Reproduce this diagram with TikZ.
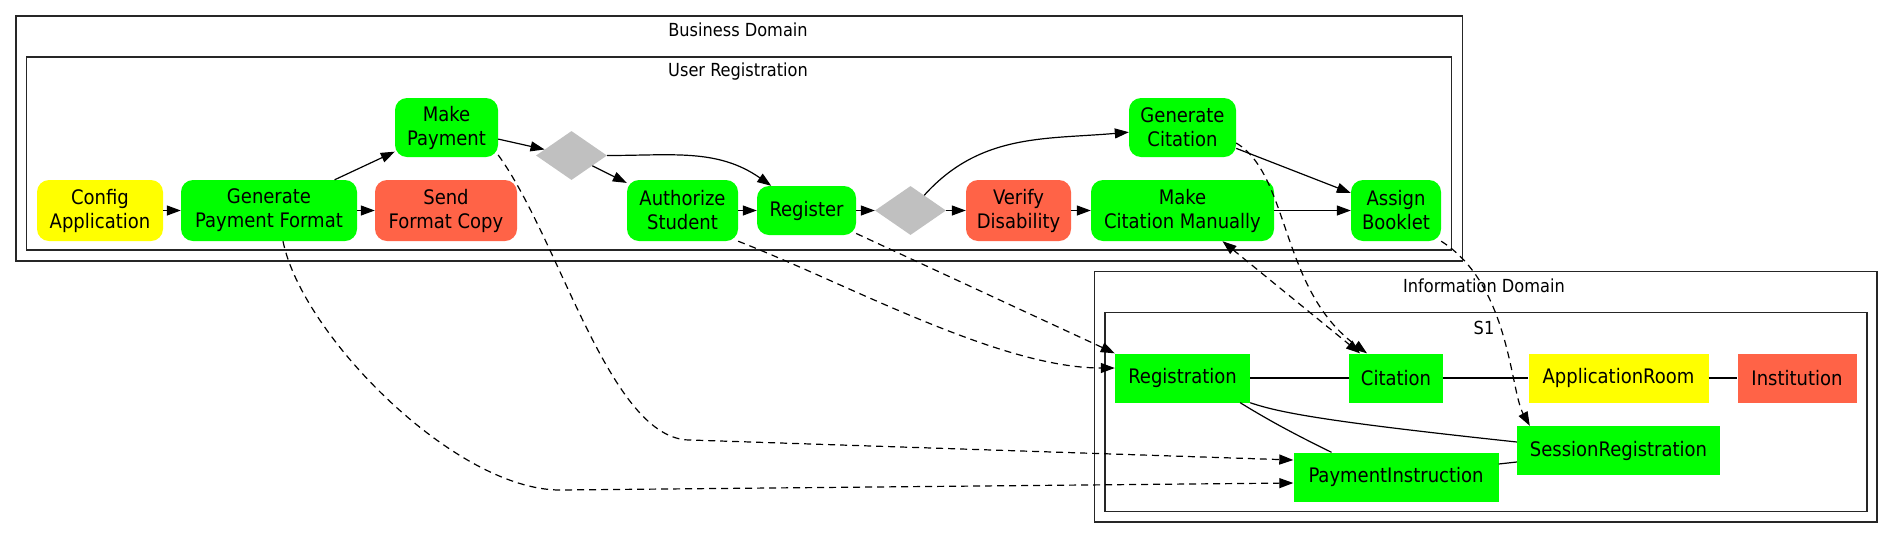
\documentclass[tikz,border=0pt]{standalone}
\usepackage{fontspec}
\setmainfont{DejaVu Sans Condensed}
\usepackage{tikz}
\usetikzlibrary{shapes.geometric,arrows.meta}
\definecolor{taskgreen}{HTML}{00FF00}
\definecolor{taskyellow}{HTML}{FFFF00}
\definecolor{tasktomato}{HTML}{FF6347}
\definecolor{gategray}{HTML}{C0C0C0}
\newcommand{\nodefont}{\fontsize{20}{24}\selectfont}
\newcommand{\clusterfont}{\fontsize{18}{21}\selectfont}

\begin{document}
\begin{tikzpicture}[
  x=1pt,y=1pt,
  >={Triangle[length=14pt,width=10pt]},
  task/.style={rounded corners=12pt, inner sep=0pt, minimum height=61pt, align=center, font=\nodefont},
  entity/.style={inner sep=0pt, minimum height=49pt, align=center, font=\nodefont},
  gate/.style={diamond, fill=gategray, inner sep=0pt, minimum width=71pt, minimum height=49pt},
  cluster/.style={draw=black!85, line width=1.3pt},
  ctitle/.style={font=\clusterfont, inner sep=0pt},
  flow/.style={->, line width=1.2pt},
  link/.style={line width=1.2pt},
  trace/.style={->, line width=1.2pt, dash pattern=on 7pt off 5pt}]
\useasboundingbox (0,0) rectangle (1893,-539);
\draw[cluster] (16,-16) rectangle (1462.7,-261);
\draw[cluster] (26.8,-57) rectangle (1451.7,-250);
\draw[cluster] (1094.5,-271.7) rectangle (1877,-522);
\draw[cluster] (1105,-312.7) rectangle (1867,-511.7);
\node[ctitle] (bdtitle) at (738,-30) {Business Domain};
\node[ctitle] (urtitle) at (738,-72) {User Registration};
\node[ctitle] (idtitle) at (1484,-286) {Information Domain};
\node[ctitle] (sonetitle) at (1484,-328) {S1};
\node[task, fill=taskyellow, minimum width=126pt] (cfgapp) at (100,-210.5) {Config\\Application};
\node[task, fill=taskgreen, minimum width=176pt] (genpay) at (269,-210.5) {Generate\\Payment Format};
\node[task, fill=tasktomato, minimum width=142pt] (sendcopy) at (446,-210.5) {Send\\Format Copy};
\node[task, fill=taskgreen, minimum width=103pt, minimum height=59pt] (makepay) at (446.5,-127.5) {Make\\Payment};
\node[gate] (gateone) at (571.5,-155.5) {};
\node[task, fill=taskgreen, minimum width=111pt] (authstud) at (682.5,-210.5) {Authorize\\Student};
\node[task, fill=taskgreen, minimum width=99pt, minimum height=49pt] (register) at (806.5,-210.5) {Register};
\node[gate] (gatetwo) at (910.5,-210.5) {};
\node[task, fill=tasktomato, minimum width=105pt] (verdis) at (1018.5,-210.5) {Verify\\Disability};
\node[task, fill=taskgreen, minimum width=183pt] (mancit) at (1182.5,-210.5) {Make\\Citation Manually};
\node[task, fill=taskgreen, minimum width=107pt, minimum height=59pt] (gencit) at (1182.5,-127.5) {Generate\\Citation};
\node[task, fill=taskgreen, minimum width=90pt] (booklet) at (1396,-210.5) {Assign\\Booklet};
\node[entity, fill=taskgreen, minimum width=135pt] (registration) at (1182.5,-378) {Registration};
\node[entity, fill=taskgreen, minimum width=94pt] (citation) at (1396,-378) {Citation};
\node[entity, fill=taskyellow, minimum width=180pt] (approom) at (1618.5,-378) {ApplicationRoom};
\node[entity, fill=tasktomato, minimum width=119pt] (institution) at (1797,-378) {Institution};
\node[entity, fill=taskgreen, minimum width=203pt] (sessreg) at (1618.5,-450.5) {SessionRegistration};
\node[entity, fill=taskgreen, minimum width=205pt] (payinst) at (1396,-477) {PaymentInstruction};
\coordinate (bendlow) at (560,-490);
\coordinate (bendhigh) at (690,-440);
\draw[flow] (cfgapp) -- (genpay);
\draw[flow] (genpay) -- (sendcopy);
\draw[flow] (genpay) -- (makepay);
\draw[flow] (makepay) -- (gateone);
\draw[flow] (gateone) -- (authstud);
\draw[flow] (gateone.east) to[out=0,in=145] (register);
\draw[flow] (authstud) -- (register);
\draw[flow] (register) -- (gatetwo);
\draw[flow] (gatetwo) -- (verdis);
\draw[flow] (gatetwo) to[out=48,in=185] (gencit);
\draw[flow] (verdis) -- (mancit);
\draw[flow] (mancit) -- (booklet);
\draw[flow] (gencit) -- (booklet);
\draw[link] (registration) -- (citation);
\draw[link] (citation) -- (approom);
\draw[link] (approom) -- (institution);
\draw[link] (registration.south east) .. controls (1280,-413) and (1330,-422) .. ([yshift=8.5pt]sessreg.west);
\draw[link] ([xshift=-10pt]registration.south east) .. controls (1265,-418) and (1290,-432) .. ([xshift=-64.5pt]payinst.north);
\draw[link] ([yshift=13pt]payinst.east) -- ([yshift=-11.5pt]sessreg.west);
\draw[trace] ([xshift=14pt]genpay.south) .. controls (302,-335) and (455,-490) .. (bendlow) -- ([yshift=-6pt]payinst.west);
\draw[trace] ([yshift=-27.5pt]makepay.east) .. controls (560,-240) and (610,-440) .. (bendhigh) -- ([yshift=17pt]payinst.west);
\draw[trace] (authstud.south east) .. controls (850,-285) and (1000,-368) .. ([yshift=10pt]registration.west);
\draw[trace] (register) -- (registration.north west);
\draw[trace,<->] ([xshift=40pt]mancit.south) -- ([xshift=-36pt]citation.north);
\draw[trace] ([yshift=-15.5pt]gencit.east) .. controls (1290,-175) and (1280,-290) .. ([xshift=-29pt]citation.north);
\draw[trace] (booklet.south east) .. controls (1510,-285) and (1510,-390) .. ([xshift=13pt]sessreg.north west);
\end{tikzpicture}
\end{document}
